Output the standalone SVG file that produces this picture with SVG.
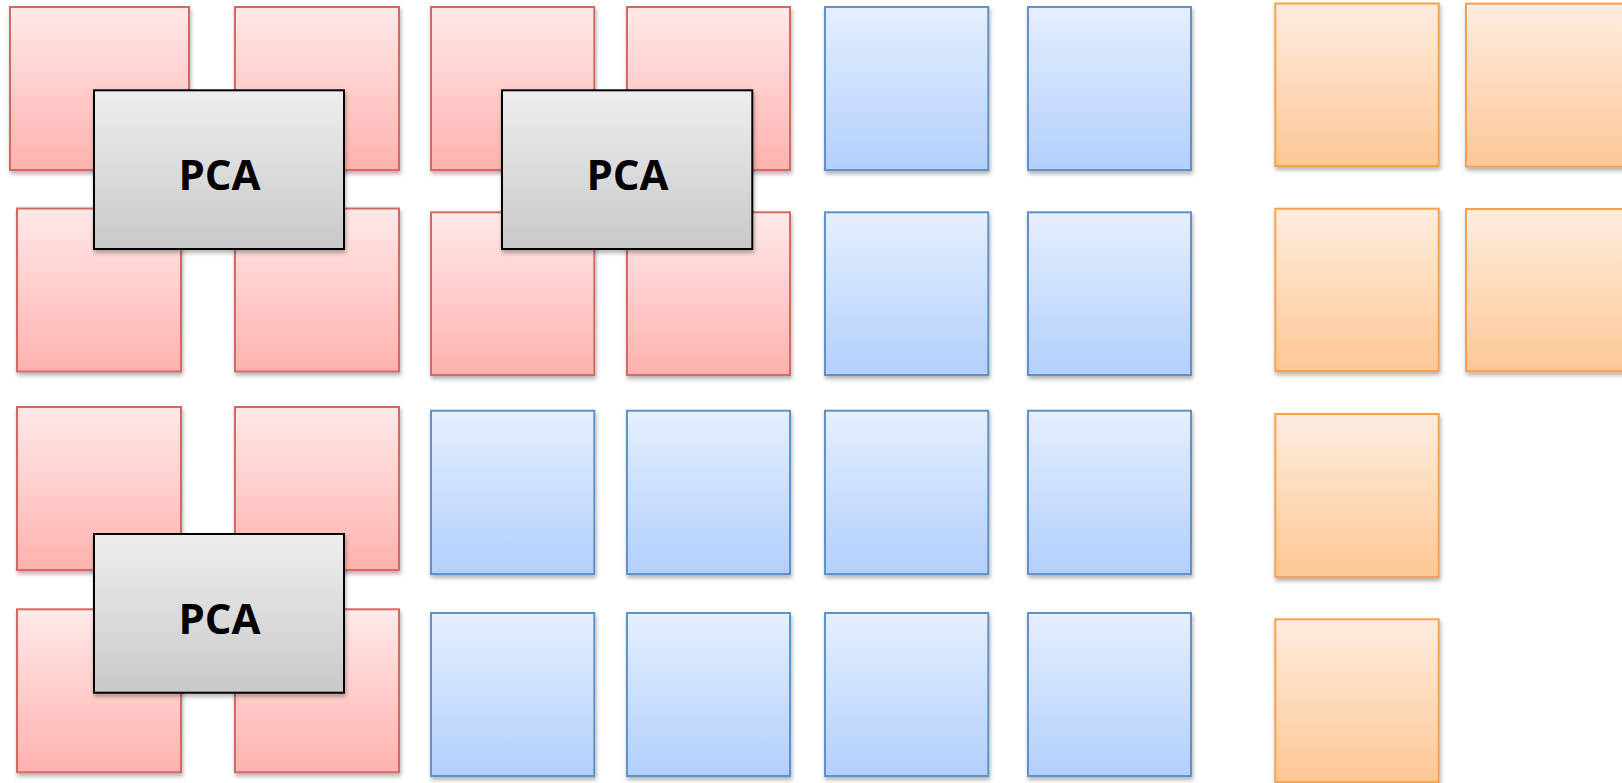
<svg xmlns="http://www.w3.org/2000/svg" width="1622" height="783" viewBox="0 0 1622 783">
  <defs>
    <linearGradient id="gRed" x1="0" y1="0" x2="0" y2="1">
      <stop offset="0" stop-color="#ffe9e9"/>
      <stop offset="1" stop-color="#ffb2ae"/>
    </linearGradient>
    <linearGradient id="gBlue" x1="0" y1="0" x2="0" y2="1">
      <stop offset="0" stop-color="#e5efff"/>
      <stop offset="1" stop-color="#b2cffc"/>
    </linearGradient>
    <linearGradient id="gOrange" x1="0" y1="0" x2="0" y2="1">
      <stop offset="0" stop-color="#feede0"/>
      <stop offset="1" stop-color="#fdc795"/>
    </linearGradient>
    <linearGradient id="gGray" x1="0" y1="0" x2="0" y2="1">
      <stop offset="0" stop-color="#eeeeee"/>
      <stop offset="1" stop-color="#c9c9c9"/>
    </linearGradient>
    <filter id="shadow" x="-10%" y="-10%" width="125%" height="125%">
      <feDropShadow dx="1" dy="3" stdDeviation="2" flood-color="#000" flood-opacity="0.3"/>
    </filter>
  </defs>
  <style>
    .red { fill: url(#gRed); stroke: #d26a64; stroke-width: 2; filter: url(#shadow); }
    .blue { fill: url(#gBlue); stroke: #5f92c9; stroke-width: 2; filter: url(#shadow); }
    .orange { fill: url(#gOrange); stroke: #f9a04e; stroke-width: 2; filter: url(#shadow); }
    .pca { fill: url(#gGray); stroke: #000; stroke-width: 2; filter: url(#shadow); }
    .label { font-family: "Open Sans", "Liberation Sans", sans-serif; font-weight: 700; font-size: 42px; fill: #000; text-anchor: middle; }
  </style>

  <rect width="1622" height="783" fill="#fff"/>

  <!-- red blocks -->
  <g id="red-r1c1"><rect class="red" x="10" y="7" width="179" height="163"/></g>
  <g id="red-r1c2"><rect class="red" x="235" y="7" width="164" height="163"/></g>
  <g id="red-r2c1"><rect class="red" x="17" y="208.5" width="164" height="163"/></g>
  <g id="red-r2c2"><rect class="red" x="235" y="208.5" width="164" height="163"/></g>
  <g id="red-r3c1"><rect class="red" x="17" y="407" width="164" height="163"/></g>
  <g id="red-r3c2"><rect class="red" x="235" y="407" width="164" height="163"/></g>
  <g id="red-r4c1"><rect class="red" x="17" y="609.3" width="164" height="163"/></g>
  <g id="red-r4c2"><rect class="red" x="235" y="609.3" width="164" height="163"/></g>
  <g id="red-r1c3"><rect class="red" x="431" y="7" width="163.3" height="163"/></g>
  <g id="red-r1c4"><rect class="red" x="627" y="7" width="163" height="163"/></g>
  <g id="red-r2c3"><rect class="red" x="431" y="212.3" width="163.3" height="162.7"/></g>
  <g id="red-r2c4"><rect class="red" x="627" y="212.3" width="163" height="162.7"/></g>

  <!-- blue blocks -->
  <g id="blue-r1c5"><rect class="blue" x="825" y="7" width="163.3" height="163"/></g>
  <g id="blue-r1c6"><rect class="blue" x="1028" y="7" width="163" height="163"/></g>
  <g id="blue-r2c5"><rect class="blue" x="825" y="212.3" width="163.3" height="162.7"/></g>
  <g id="blue-r2c6"><rect class="blue" x="1028" y="212.3" width="163" height="162.7"/></g>
  <g id="blue-r3c3"><rect class="blue" x="431" y="410.7" width="163.3" height="163.3"/></g>
  <g id="blue-r3c4"><rect class="blue" x="627" y="410.7" width="163" height="163.3"/></g>
  <g id="blue-r3c5"><rect class="blue" x="825" y="410.7" width="163.3" height="163.3"/></g>
  <g id="blue-r3c6"><rect class="blue" x="1028" y="410.7" width="163" height="163.3"/></g>
  <g id="blue-r4c3"><rect class="blue" x="431" y="613" width="163.3" height="163"/></g>
  <g id="blue-r4c4"><rect class="blue" x="627" y="613" width="163" height="163"/></g>
  <g id="blue-r4c5"><rect class="blue" x="825" y="613" width="163.3" height="163"/></g>
  <g id="blue-r4c6"><rect class="blue" x="1028" y="613" width="163" height="163"/></g>

  <!-- orange blocks -->
  <g id="orange-r1c7"><rect class="orange" x="1275.3" y="3.5" width="163.4" height="162.5"/></g>
  <g id="orange-r1c8"><rect class="orange" x="1466" y="3.7" width="163" height="163"/></g>
  <g id="orange-r2c7"><rect class="orange" x="1275.3" y="208.7" width="163.4" height="162.3"/></g>
  <g id="orange-r2c8"><rect class="orange" x="1466" y="209" width="163" height="162.3"/></g>
  <g id="orange-r3c7"><rect class="orange" x="1275.3" y="414" width="163.4" height="163"/></g>
  <g id="orange-r4c7"><rect class="orange" x="1275.3" y="619.3" width="163.4" height="163"/></g>

  <!-- PCA boxes over the red blocks -->
  <g id="pca-1">
    <rect class="pca" x="94" y="90.3" width="250" height="158.7"/>
    <text class="label" x="219.5" y="189.5">PCA</text>
  </g>
  <g id="pca-2">
    <rect class="pca" x="502" y="90.3" width="250.3" height="158.7"/>
    <text class="label" x="627.5" y="189.5">PCA</text>
  </g>
  <g id="pca-3">
    <rect class="pca" x="94" y="534" width="250" height="158.7"/>
    <text class="label" x="219.5" y="633.5">PCA</text>
  </g>

  <g id="connectors"/>
</svg>
